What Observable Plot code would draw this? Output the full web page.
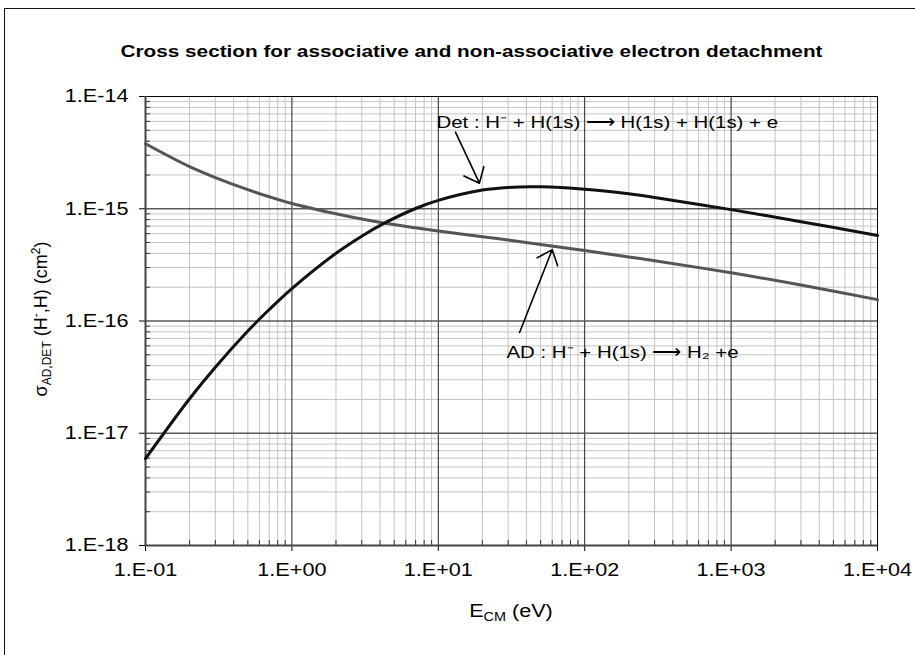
<!DOCTYPE html>
<html>
<head>
<meta charset="utf-8">
<script src="https://cdn.jsdelivr.net/npm/d3@7"></script>
<script src="https://cdn.jsdelivr.net/npm/@observablehq/plot@0.6"></script>
<style>
  body { margin: 0; background: #fff; }
  #wrap { position: relative; width: 915px; height: 655px; overflow: hidden; background: #fff;
          font-family: "Liberation Sans", Arial, sans-serif; color: #000; }
  #figframe { position: absolute; left: 4px; top: 8px; width: 960px; height: 700px;
              border-left: 1.5px solid #111; border-top: 1.5px solid #111; }
  #chart { position: absolute; left: 0; top: 0; }
  #title { position: absolute; left: 14px; width: 915px; top: 42px; line-height: 20px; text-align: center;
           font-weight: bold; font-size: 17px; transform: scaleX(1.22); white-space: nowrap; }
  #xlabel { position: absolute; left: 311px; width: 400px; top: 601px; line-height: 20px; text-align: center;
            font-size: 18px; transform: scaleX(1.2); white-space: nowrap; }
  #ylabel { position: absolute; left: -108px; width: 300px; top: 308px; line-height: 20px; text-align: center;
            font-size: 18px; transform: rotate(-90deg); white-space: nowrap; }
  .sub { font-size: 12px; position: relative; top: 4px; }
  .sup { font-size: 12px; position: relative; top: -7px; }
</style>
</head>
<body>
<div id="wrap">
  <div id="figframe"></div>
  <div id="chart"></div>
  <div id="title">Cross section for associative and non-associative electron detachment</div>
  <div id="xlabel">E<span class="sub">CM</span> (eV)</div>
  <div id="ylabel">σ<span class="sub">AD,DET</span> (H<span class="sup">-</span>,H) (cm<span class="sup">2</span>)</div>
</div>
<script>
// ---- data ----
const energy = [0.1, 0.2, 0.3, 0.5, 0.7, 1, 2, 3, 4.25, 7, 10, 20, 30, 50, 100, 200, 300, 1000, 3000, 10000];
const sigmaAD = [3.79e-15, 2.37e-15, 1.897e-15, 1.479e-15, 1.279e-15, 1.114e-15, 9.02e-16, 8.09e-16, 7.45e-16, 6.76e-16,
                 6.34e-16, 5.64e-16, 5.26e-16, 4.81e-16, 4.24e-16, 3.72e-16, 3.44e-16, 2.69e-16, 2.09e-16, 1.55e-16];
const sigmaDet = [5.94e-18, 2.03e-17, 3.87e-17, 8.13e-17, 1.265e-16, 1.945e-16, 4.01e-16, 5.70e-16, 7.40e-16, 1.005e-15,
                  1.186e-15, 1.466e-15, 1.549e-15, 1.567e-15, 1.493e-15, 1.358e-15, 1.262e-15, 9.82e-16, 7.67e-16, 5.78e-16];

// axis ticks
const xMajorTicks = [0.1, 1, 10, 100, 1000, 10000];
const yMajorTicks = [1e-18, 1e-17, 1e-16, 1e-15, 1e-14];
const xDecades = [0.1, 1, 10, 100, 1000];
const yDecades = [1e-18, 1e-17, 1e-16, 1e-15];
const minorMultipliers = [2, 3, 4, 5, 6, 7, 8, 9];

// annotations
const labelText = ["Det : H\u207B + H(1s) \u27F6 H(1s) + H(1s) + e", "AD : H\u207B + H(1s) \u27F6 H\u2082 +e"];
const labelE = [9.72, 29.2];
const labelSigma = [5.89e-15, 5.28e-17];
const arrowE1 = [13.1, 35.9];
const arrowS1 = [4.81e-15, 7.91e-17];
const arrowE2 = [19.1, 60.0];
const arrowS2 = [1.69e-15, 4.32e-16];

// ---- build tables ----
const adRows = energy.map((e, i) => ({E: e, s: sigmaAD[i]}));
const detRows = energy.map((e, i) => ({E: e, s: sigmaDet[i]}));
const xMinor = xDecades.flatMap(d => minorMultipliers.map(k => k * d));
const yMinor = yDecades.flatMap(d => minorMultipliers.map(k => k * d));
const xGridMajor = xMajorTicks.slice(1, -1);
const yGridMajor = yMajorTicks.slice(1, -1);
const labels = labelText.map((t, i) => ({t, E: labelE[i], s: labelSigma[i]}));
const arrows = arrowE1.map((e, i) => ({x1: e, y1: arrowS1[i], x2: arrowE2[i], y2: arrowS2[i]}));

const sci = d => { const e = Math.round(Math.log10(d)); return "1.E" + (e < 0 ? "-" : "+") + String(Math.abs(e)).padStart(2, "0"); };

const W = 915, H = 655, mL = 145, mR = 38, mT = 96, mB = 110;
const plotW = W - mL - mR, plotH = H - mT - mB;

const chart = Plot.plot({
  width: W, height: H,
  marginLeft: mL, marginRight: mR, marginTop: mT, marginBottom: mB,
  style: {fontFamily: "'Liberation Sans', Arial, sans-serif", fontSize: "18px", background: "transparent", color: "#000"},
  x: {type: "log", domain: [0.1, 1e4], ticks: xMajorTicks, tickFormat: sci, tickSize: 6, tickPadding: 12, label: null},
  y: {type: "log", domain: [1e-18, 1e-14], ticks: yMajorTicks, tickFormat: sci, tickSize: 6, tickPadding: 11, label: null},
  marks: [
    Plot.ruleX(xMinor, {stroke: "#c4c4c4", strokeWidth: 1}),
    Plot.ruleY(yMinor, {stroke: "#c4c4c4", strokeWidth: 1}),
    Plot.ruleX(xGridMajor, {stroke: "#222", strokeWidth: 1}),
    Plot.ruleY(yGridMajor, {stroke: "#5a5a5a", strokeWidth: 1.4}),
    Plot.frame({stroke: "#000", strokeWidth: 1}),
    Plot.ruleX(xMinor, {insetTop: plotH - 5, stroke: "#333", strokeWidth: 1}),
    Plot.ruleY(yMinor, {insetRight: plotW - 5, stroke: "#333", strokeWidth: 1}),
    Plot.ruleX([0.1], {stroke: "#444", strokeWidth: 2}),
    Plot.ruleY([1e-18], {stroke: "#444", strokeWidth: 2}),
    Plot.line(adRows, {x: "E", y: "s", stroke: "#555", strokeWidth: 3, curve: "catmull-rom"}),
    Plot.line(detRows, {x: "E", y: "s", stroke: "#111", strokeWidth: 3, curve: "catmull-rom"}),
    Plot.arrow(arrows, {x1: "x1", y1: "y1", x2: "x2", y2: "y2", stroke: "#000", strokeWidth: 1.6,
                        headLength: 16, headAngle: 80, bend: 0}),
    Plot.text(labels, {x: "E", y: "s", text: "t", textAnchor: "start", fontSize: 17, fill: "#000"})
  ]
});
document.getElementById("chart").append(chart);

// Horizontal stretch of the SVG texts (the reference's glyphs are wider than tall)
const S = 1.2;
chart.querySelectorAll("text").forEach(t => {
  const w = t.getComputedTextLength();
  if (w > 0) {
    t.setAttribute("textLength", (w * S).toFixed(1));
    t.setAttribute("lengthAdjust", "spacingAndGlyphs");
  }
});
</script>
</body>
</html>
